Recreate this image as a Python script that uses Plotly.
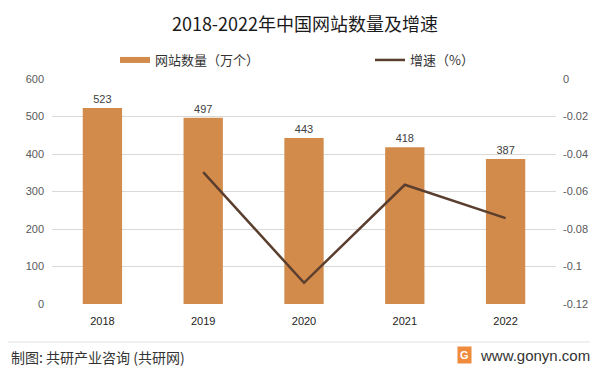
import plotly.graph_objects as go

years = ["2018", "2019", "2020", "2021", "2022"]
sites = [523, 497, 443, 418, 387]
growth_years = ["2019", "2020", "2021", "2022"]
growth = [-0.0497, -0.1087, -0.0564, -0.0742]
left_ticks = [0, 100, 200, 300, 400, 500, 600]
right_tickvals = [0, -0.02, -0.04, -0.06, -0.08, -0.1, -0.12]
right_ticktext = ["0", "-0.02", "-0.04", "-0.06", "-0.08", "-0.1", "-0.12"]

CJK = "Noto Sans CJK SC"
LAT = "Liberation Sans"
BAR_C = "#D38B4C"
LINE_C = "#5B3F2E"

# the page body has an 8px default margin, so the figure is sized/offset for it
W, H = 590, 367

fig = go.Figure()
fig.add_trace(go.Bar(
    x=years, y=sites, name="网站数量（万个）", showlegend=False,
    marker=dict(color=BAR_C, line=dict(width=0)),
    width=0.39,
    text=[str(v) for v in sites], textposition="outside",
    textfont=dict(family=LAT, size=11, color="#404040"),
    cliponaxis=False,
))
# legend entry for the bars (wide flat swatch like the original)
fig.add_trace(go.Scatter(
    x=[None], y=[None], name="网站数量（万个）", mode="lines",
    line=dict(color=BAR_C, width=6), legend="legend",
))
fig.add_trace(go.Scatter(
    x=growth_years, y=growth, name="增速（%）", yaxis="y2",
    mode="lines", line=dict(color=LINE_C, width=2.5), legend="legend2",
))

leg_common = dict(orientation="h", yref="container", y=1 - 52 / H, yanchor="middle",
                  xref="container", xanchor="left",
                  font=dict(family=CJK, size=13, color="#333333"),
                  itemwidth=30, bgcolor="rgba(0,0,0,0)", borderwidth=0)

fig.update_layout(
    width=W, height=H,
    margin=dict(l=44, r=42, t=71, b=71, autoexpand=False),
    paper_bgcolor="white", plot_bgcolor="white",
    title=dict(text="2018-2022年中国网站数量及增速", xref="container", x=297 / W,
               xanchor="center", yref="container", y=1 - 17 / H, yanchor="middle",
               font=dict(family=CJK, size=18, color="#1a1a1a")),
    showlegend=True,
    legend=dict(x=107 / W, **leg_common),
    legend2=dict(x=362 / W, **leg_common),
    xaxis=dict(type="category", showgrid=False, zeroline=False, showline=False,
               ticks="", ticklabelstandoff=9,
               tickfont=dict(family=LAT, size=11, color="#222222")),
    yaxis=dict(range=[0, 600], tickvals=left_ticks, showgrid=True,
               gridcolor="#D9D9D9", gridwidth=1, zeroline=False, showline=False,
               ticks="", ticklabelstandoff=7,
               tickfont=dict(family=LAT, size=11, color="#595959")),
    yaxis2=dict(range=[-0.12, 0], overlaying="y", side="right",
                tickvals=right_tickvals, ticktext=right_ticktext,
                showgrid=False, zeroline=False, showline=False, ticks="",
                ticklabelstandoff=6,
                tickfont=dict(family=LAT, size=11, color="#595959")),
)

fig.add_shape(type="line", xref="paper", yref="paper", x0=-0.1, x1=1.1,
              y0=-0.169, y1=-0.169, line=dict(color="#E3E3E3", width=1))
fig.add_annotation(text="制图: 共研产业咨询 (共研网)", xref="paper", yref="paper",
                   x=-0.086, xanchor="left", y=-0.235, yanchor="middle", showarrow=False,
                   font=dict(family=CJK, size=14, color="#333333"))
fig.add_annotation(text="www.gonyn.com", xref="paper", yref="paper",
                   x=1.071, xanchor="right", y=-0.228, yanchor="middle", showarrow=False,
                   font=dict(family=LAT, size=15, color="#333333"))
fig.add_annotation(text="<b>G</b>", xref="paper", yref="paper",
                   x=(464 - 52) / 504, xanchor="center", y=-0.228, yanchor="middle",
                   showarrow=False, bgcolor="#F08A3C",
                   font=dict(family=LAT, size=11, color="white"), borderpad=2)

fig.write_html("out.html")
